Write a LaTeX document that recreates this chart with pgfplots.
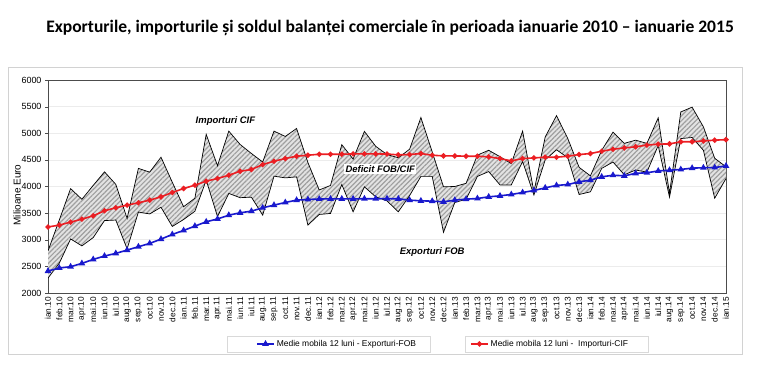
\documentclass[border=0pt]{standalone}
\usepackage{fontspec}
\setmainfont{Liberation Sans}
\newfontfamily\titlefont{Carlito}
\usepackage{pgfplots}
\usepackage{pgfplotstable}
\pgfplotsset{compat=1.18}
\usepgfplotslibrary{fillbetween}
\usetikzlibrary{patterns,patterns.meta}
\definecolor{mared}{RGB}{235,30,35}
\definecolor{mablue}{RGB}{25,25,205}
\pgfplotstableread{
i imp exp mai mae
0 2790 2280 3240 2412
1 3370 2560 3275 2469
2 3960 3015 3331 2494
3 3760 2885 3387 2556
4 4020 3040 3450 2631
5 4275 3360 3544 2694
6 4040 3370 3600 2744
7 3400 2830 3650 2806
8 4340 3520 3694 2869
9 4270 3485 3744 2931
10 4550 3610 3806 3012
11 4080 3250 3887 3100
12 3620 3380 3962 3175
13 3780 3535 4025 3256
14 4980 4120 4100 3337
15 4390 3435 4150 3390
16 5040 3870 4212 3462
17 4790 3790 4287 3506
18 4620 3800 4319 3537
19 4460 3462 4412 3600
20 5040 4194 4475 3650
21 4940 4162 4525 3700
22 5090 4181 4569 3744
23 4450 3275 4587 3756
24 3935 3475 4606 3765
25 4020 3494 4606 3768
26 4785 4037 4606 3768
27 4515 3525 4612 3768
28 5035 3994 4612 3770
29 4755 3806 4612 3770
30 4600 3730 4610 3772
31 4540 3525 4594 3769
32 4700 3830 4600 3744
33 5295 4190 4619 3731
34 4650 4190 4587 3725
35 3995 3140 4575 3712
36 4000 3700 4575 3744
37 4060 3760 4569 3762
38 4590 4190 4569 3775
39 4680 4280 4556 3806
40 4560 4030 4525 3825
41 4430 4030 4481 3850
42 5040 4470 4525 3887
43 3900 3840 4537 3925
44 4930 4500 4550 3975
45 5330 4690 4550 4020
46 4900 4540 4569 4037
47 4360 3850 4600 4087
48 4200 3900 4619 4119
49 4680 4340 4662 4181
50 5020 4460 4700 4212
51 4810 4220 4725 4200
52 4870 4310 4746 4247
53 4810 4270 4777 4258
54 5290 4770 4795 4292
55 3870 3800 4800 4306
56 5400 4900 4840 4320
57 5490 4920 4840 4345
58 5120 4680 4855 4352
59 4530 3780 4870 4356
60 4370 4150 4880 4386
}\data
\begin{document}
\begin{tikzpicture}
\draw[gray!35, line width=0.8bp] (8bp,25bp) rectangle (742bp,312bp);
\node[font=\titlefont\bfseries\fontsize{17.6}{20}\selectfont] at (390bp,351bp) {Exporturile, importurile și soldul balanței comerciale în perioada ianuarie 2010 – ianuarie 2015};
\begin{axis}[at={(48bp,86bp)}, anchor=south west, scale only axis,
  width=678bp, height=213bp,
  xmin=0, xmax=60, ymin=2000, ymax=6000,
  ytick={2000,2500,...,6000},
  xtick={0,...,60},
  xticklabels={ian.10,feb.10,mar.10,apr.10,mai.10,iun.10,iul.10,aug.10,sep.10,oct.10,nov.10,dec.10,
    ian.11,feb.11,mar.11,apr.11,mai.11,iun.11,iul.11,aug.11,sep.11,oct.11,nov.11,dec.11,
    ian.12,feb.12,mar.12,apr.12,mai.12,iun.12,iul.12,aug.12,sep.12,oct.12,nov.12,dec.12,
    ian.13,feb.13,mar.13,apr.13,mai.13,iun.13,iul.13,aug.13,sep.13,oct.13,nov.13,dec.13,
    ian.14,feb.14,mar.14,apr.14,mai.14,iun.14,iul.14,aug.14,sep.14,oct.14,nov.14,dec.14,
    ian.15},
  axis line style={gray!60!black, line width=0.8bp},
  ymajorgrids, major grid style={gray!15, line width=0.6bp},
  tick style={gray!60!black}, major tick length=3bp, tick align=outside,
  ytick pos=left, xtick pos=bottom,
  xtick style={draw=none},
  xticklabel style={rotate=90, anchor=east, font=\fontsize{8.3}{9}\selectfont, inner sep=1bp},
  yticklabel style={font=\fontsize{9}{10}\selectfont},
  /pgf/number format/assume math mode=true,
  /pgf/number format/1000 sep={},
  legend columns=2,
  legend cell align=left,
  legend style={at={(0.3024,-0.239)}, anchor=west, draw=none, fill=none,
    font=\fontsize{8.5}{9}\selectfont,
    /tikz/every even column/.append style={column sep=52bp}},
]
\addplot[name path=imp, black, line width=0.7bp, forget plot] table[x=i,y=imp]{\data};
\addplot[name path=exp, black, line width=0.7bp, forget plot] table[x=i,y=exp]{\data};
\addplot[fill=gray!22, draw=none, forget plot] fill between[of=imp and exp];
\addplot[pattern={Lines[angle=45,distance=3.4bp,line width=1.2bp]}, pattern color=gray!75, draw=none, forget plot] fill between[of=imp and exp];
\addplot[mablue, line width=1.6bp, mark=triangle*, mark size=2.3bp] table[x=i,y=mae]{\data};
\addlegendentry{Medie mobila 12 luni - Exporturi-FOB}
\addplot[mared, line width=1.6bp, mark=*, mark size=1.8bp] table[x=i,y=mai]{\data};
\addlegendentry{Medie mobila 12 luni -\ \ Importuri-CIF}
\node[font=\bfseries\itshape\fontsize{9.5}{11}\selectfont] at (axis cs:15.7,5230) {Importuri CIF};
\node[fill=white, inner sep=1.5bp, font=\bfseries\itshape\fontsize{9.5}{11}\selectfont] at (axis cs:29.4,4329) {Deficit FOB/CIF};
\node[font=\bfseries\itshape\fontsize{9.5}{11}\selectfont] at (axis cs:34,2770) {Exporturi FOB};
\end{axis}
\node[rotate=90, font=\fontsize{10}{12}\selectfont] at (17bp,184bp) {Milioane Euro};
\draw[gray!30] (227bp,27bp) rectangle (430bp,43bp);
\draw[gray!30] (465bp,27bp) rectangle (648bp,43bp);
\pgfresetboundingbox
\useasboundingbox (0bp,0bp) rectangle (767bp,379bp);
\end{tikzpicture}
\end{document}
